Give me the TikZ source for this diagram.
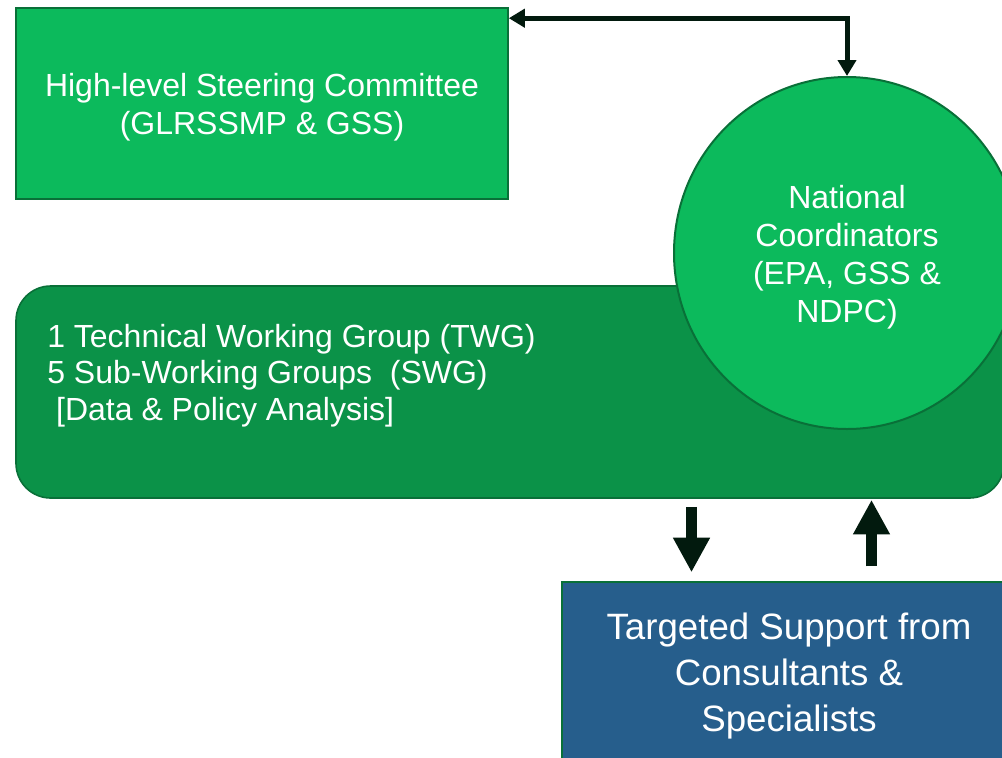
\documentclass[tikz,border=0pt]{standalone}
\usepackage{fontspec}
\setmainfont{Liberation Sans}
\usetikzlibrary{arrows.meta,calc,shapes.geometric}

\definecolor{boxgreen}{RGB}{12,186,92}
\definecolor{darkgreen}{RGB}{11,146,72}
\definecolor{edgegreen}{RGB}{9,112,56}
\definecolor{navy}{RGB}{38,94,140}
\definecolor{arrowblack}{RGB}{2,26,14}

\tikzset{
  box/.style={draw=edgegreen, line width=1.2pt, inner sep=0pt},
  txt/.style={text=white, align=center, inner sep=0pt, font=\fontsize{24}{28.5}\selectfont},
  link/.style={draw=arrowblack, line width=3.75pt,
    {Triangle[length=12pt,width=13.5pt]}-{Triangle[length=12pt,width=13.5pt]}},
  bigarrow/.style={draw=arrowblack, line width=8.5pt, -{Triangle[length=26pt,width=26pt]}},
}

\begin{document}
\begin{tikzpicture}[x=0.75pt,y=-0.75pt]
\useasboundingbox (0,0) rectangle (1002,757);
\clip (0,0) rectangle (1002,757);

% boxes
\node[box, fill=boxgreen, minimum width=369pt, minimum height=143.25pt] (steer) at (262,103.5) {};
\node[box, fill=darkgreen, rounded corners=26pt, minimum width=741pt, minimum height=159pt] (twg) at (510,392) {};
\node[box, ellipse, fill=boxgreen, line width=1.5pt, minimum width=259.5pt, minimum height=264pt] (natcoord) at (847,253) {};
\node[box, fill=navy, line width=1pt, minimum width=340.5pt, minimum height=136.5pt] (support) at (789,673) {};

% texts
\node[txt] (steerlabel) at ($(steer)+(0,3.5)$) {High-level Steering Committee\\(GLRSSMP \& GSS)};
\node[txt, align=left, anchor=west, font=\fontsize{24}{27.4}\selectfont] (twglabel) at (47,375.5)
  {1 Technical Working Group (TWG)\\5 Sub-Working Groups\ \ (SWG)\\{}\ [Data \& Policy Analysis]};
\node[txt] (natlabel) at ($(natcoord)+(0,4.5)$) {National\\Coordinators\\(EPA, GSS \&\\NDPC)};
\node[txt, font=\fontsize{27.5}{34.5}\selectfont] (supportlabel) at ($(support)+(0,3.5)$)
  {Targeted Support from\\Consultants \&\\Specialists};

% arrows
\coordinate (dn) at (691.5,0);
\coordinate (up) at (871.5,0);
\draw[link] ($(steer.north east)+(0,11)$) -| (natcoord.north);
\draw[bigarrow] ($(twg.south -| dn)+(0,8)$) -- ($(support.north -| dn)+(0,-9)$);
\draw[bigarrow] ($(support.north -| up)+(0,-15)$) -- ($(twg.south -| up)+(0,1)$);
\end{tikzpicture}
\end{document}
